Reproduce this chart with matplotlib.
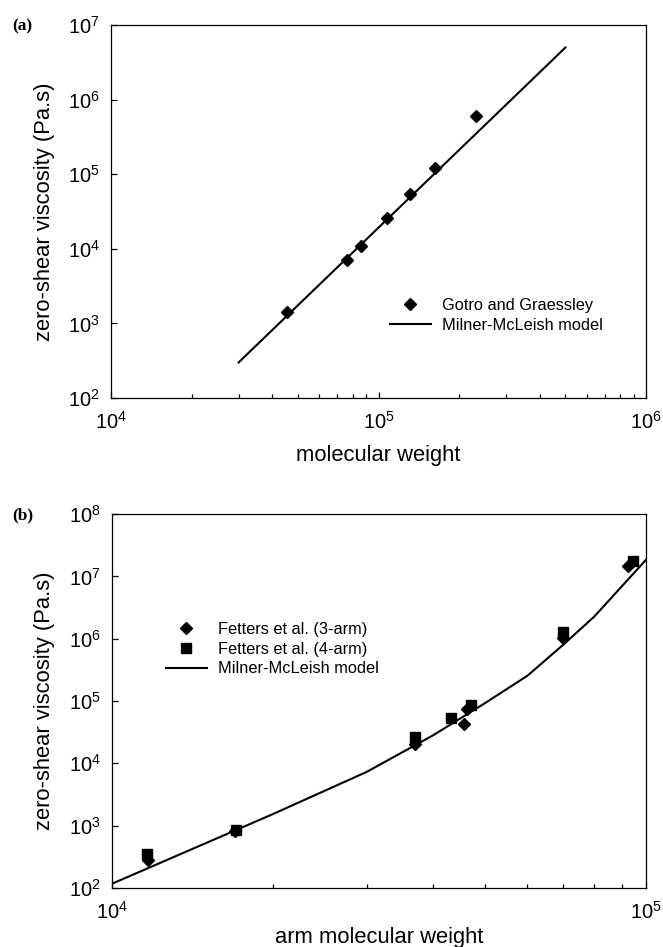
import matplotlib
matplotlib.use('Agg')
import matplotlib.pyplot as plt
from matplotlib.ticker import NullFormatter, NullLocator, LogLocator

plt.rcParams['font.family'] = ['Liberation Sans', 'DejaVu Sans']

# (a) linear chains: data and model
mw_a = [45600, 76500, 85900, 107400, 131600, 163200, 232300]
eta_a = [1440, 7100, 10800, 26000, 54400, 121000, 604000]
mw_model_a = [3.0e4, 5.0e5]
eta_model_a = [300, 5.0e6]

# (b) stars: 3-arm, 4-arm and model
mw_3arm = [11680, 16970, 36960, 45600, 46240, 69960, 92620]
eta_3arm = [285, 814, 20400, 43200, 75200, 1.01e6, 1.49e7]
mw_4arm = [11610, 17050, 36960, 43230, 46930, 69900, 94660]
eta_4arm = [356, 855, 26700, 53900, 85100, 1.27e6, 1.75e7]
mw_model_b = [1e4, 2e4, 3e4, 4e4, 5e4, 6e4, 7e4, 8e4, 1e5]
eta_model_b = [117, 1530, 7300, 28400, 93000, 2.55e5, 8.0e5, 2.26e6, 1.84e7]

fig = plt.figure(figsize=(6.63, 9.47), dpi=100)
ax1 = fig.add_axes([0.1674, 0.5797, 0.8070, 0.3939])
ax2 = fig.add_axes([0.1689, 0.0623, 0.8054, 0.3949])


def style(ax):
    ax.set_xscale('log')
    ax.set_yscale('log')
    for s in ax.spines.values():
        s.set_linewidth(0.9)
    ax.tick_params(which='both', direction='in', top=False, right=False,
                   labelsize=14.5, width=0.9)
    ax.tick_params(which='major', length=4.5)
    ax.tick_params(which='minor', length=3)
    ax.tick_params(axis='x', pad=9)
    ax.tick_params(axis='y', pad=8)
    ax.xaxis.set_minor_locator(LogLocator(base=10, subs=range(2, 10)))
    ax.xaxis.set_minor_formatter(NullFormatter())
    ax.yaxis.set_minor_locator(NullLocator())


# panel (a)
style(ax1)
ax1.plot(mw_model_a, eta_model_a, color='black', lw=1.5,
         label='Milner-McLeish model')
ax1.plot(mw_a, eta_a, 'D', color='black', ms=6.5, ls='none',
         label='Gotro and Graessley')
ax1.set_xlim(1e4, 1e6)
ax1.set_ylim(1e2, 1e7)
ax1.set_xlabel('molecular weight', fontsize=15.8)
ax1.set_ylabel('zero-shear viscosity (Pa.s)', fontsize=15.8)
ax1.xaxis.set_label_coords(0.5, -0.127)
ax1.yaxis.set_label_coords(-0.105, 0.5)
h, l = ax1.get_legend_handles_labels()
ax1.legend(h[::-1], l[::-1], loc='center left', bbox_to_anchor=(0.521, 0.222),
           frameon=False, fontsize=11.8, borderpad=0, borderaxespad=0,
           handlelength=2.5, handletextpad=0.7, labelspacing=0.3)

# panel (b)
style(ax2)
ax2.plot(mw_model_b, eta_model_b, color='black', lw=1.5,
         label='Milner-McLeish model')
ax2.plot(mw_3arm, eta_3arm, 'D', color='black', ms=6.5, ls='none',
         label='Fetters et al. (3-arm)')
ax2.plot(mw_4arm, eta_4arm, 's', color='black', ms=6.5, ls='none',
         label='Fetters et al. (4-arm)')
ax2.set_xlim(1e4, 1e5)
ax2.set_ylim(1e2, 1e8)
ax2.set_xlabel('arm molecular weight', fontsize=15.8)
ax2.set_ylabel('zero-shear viscosity (Pa.s)', fontsize=15.8)
ax2.xaxis.set_label_coords(0.5, -0.104)
ax2.yaxis.set_label_coords(-0.107, 0.5)
h, l = ax2.get_legend_handles_labels()
ax2.legend([h[1], h[2], h[0]], [l[1], l[2], l[0]], loc='center left',
           bbox_to_anchor=(0.101, 0.639), frameon=False, fontsize=11.8,
           borderpad=0, borderaxespad=0, handlelength=2.5,
           handletextpad=0.7, labelspacing=0.3)

fig.text(0.018, 0.972, '(a)', family='Liberation Serif', weight='bold',
         fontsize=12.5, va='center', ha='left')
fig.text(0.018, 0.456, '(b)', family='Liberation Serif', weight='bold',
         fontsize=12.5, va='center', ha='left')

fig.savefig('out.png', dpi=100)
